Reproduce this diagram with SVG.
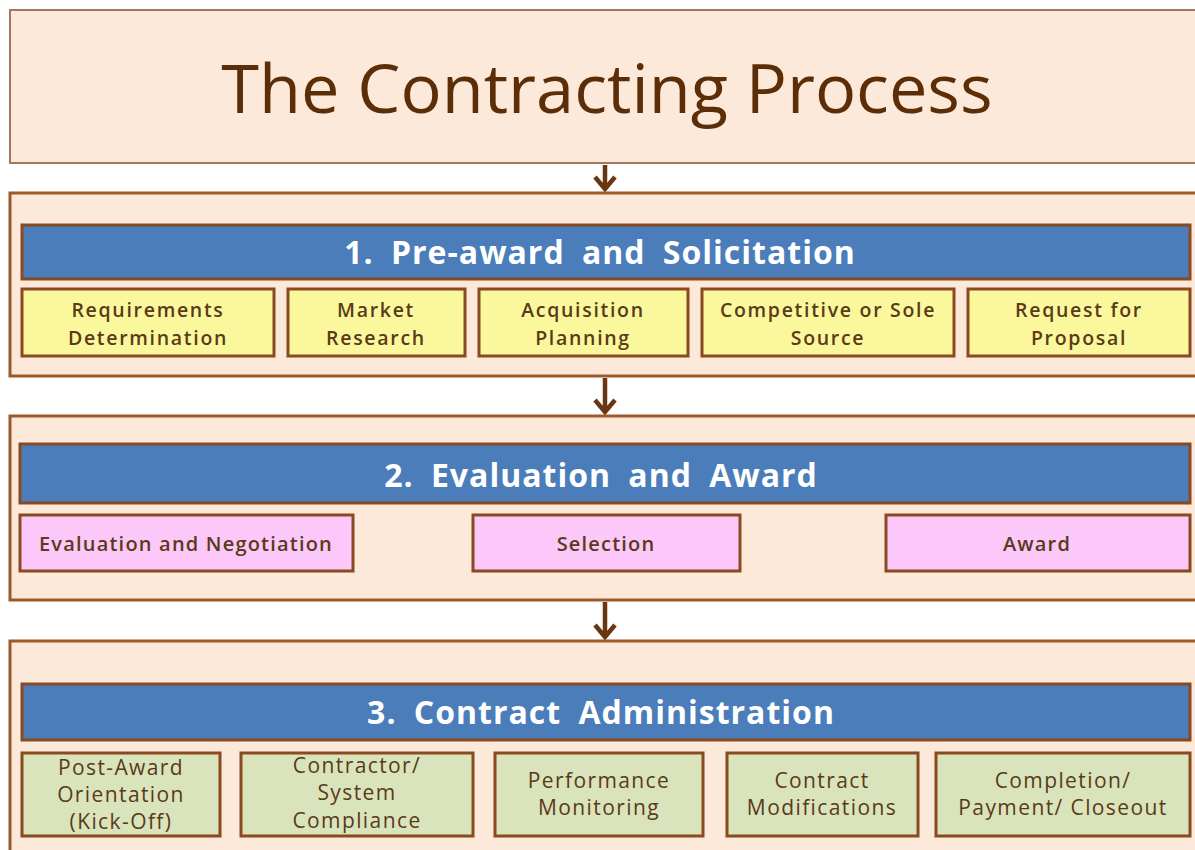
<svg xmlns="http://www.w3.org/2000/svg" width="1195" height="850" viewBox="0 0 1195 850">
<style>
.panel{fill:#fde9da;stroke:#9a5a2c;stroke-width:3}
.titlebox{fill:#fde9da;stroke:#a07a60;stroke-width:2}
.bar{fill:#4a7dba;stroke:#8a4a20;stroke-width:3}
.yel{fill:#fbf79c;stroke:#8a4a20;stroke-width:3}
.pink{fill:#fcc8fa;stroke:#8a4a20;stroke-width:3}
.green{fill:#d9e4bd;stroke:#8a4a20;stroke-width:3}
.title{font-family:"Open Sans",sans-serif;font-size:68.5px;fill:#5c2e08;text-anchor:middle}
.bt{font-family:"Open Sans",sans-serif;font-weight:700;font-size:32px;fill:#ffffff;text-anchor:middle;letter-spacing:1px;word-spacing:8px}
.st{font-family:"Open Sans",sans-serif;font-weight:600;font-size:19.5px;fill:#5a3a18;text-anchor:middle;letter-spacing:1.7px}
.pt{font-family:"Open Sans",sans-serif;font-weight:600;font-size:20px;fill:#5a3a18;text-anchor:middle;letter-spacing:1.2px}
.gt{font-family:"Open Sans",sans-serif;font-weight:400;font-size:21px;fill:#5a3a18;text-anchor:middle;letter-spacing:1.4px}
.arr{fill:none;stroke:#6a3612;stroke-width:4.5}
</style>
<rect width="1195" height="850" fill="#ffffff"/>
<g id="title">
<rect class="titlebox" x="10" y="10" width="1200" height="153"/>
<text class="title" x="607" y="113">The Contracting Process</text>
</g>
<g id="connectors">
<path class="arr" d="M605,165 V189 M595,177 L605,189 L615,177"/>
<path class="arr" d="M605,378 V412 M595,400 L605,412 L615,400"/>
<path class="arr" d="M605,602 V637 M595,625 L605,637 L615,625"/>
</g>
<g id="phase1">
<rect class="panel" x="10" y="193" width="1200" height="183"/>
<rect class="bar" x="22" y="225" width="1168" height="54"/>
<text class="bt" x="600" y="264">1. Pre-award and Solicitation</text>
</g>
<g id="req"><rect class="yel" x="22" y="289" width="252" height="67"/><text class="st" x="148" y="317">Requirements</text><text class="st" x="148" y="345">Determination</text></g>
<g id="market"><rect class="yel" x="288" y="289" width="177" height="67"/><text class="st" x="376" y="317">Market</text><text class="st" x="376" y="345">Research</text></g>
<g id="acq"><rect class="yel" x="479" y="289" width="209" height="67"/><text class="st" x="583" y="317">Acquisition</text><text class="st" x="583" y="345">Planning</text></g>
<g id="comp"><rect class="yel" x="702" y="289" width="252" height="67"/><text class="st" x="828" y="317">Competitive or Sole</text><text class="st" x="828" y="345">Source</text></g>
<g id="rfp"><rect class="yel" x="968" y="289" width="222" height="67"/><text class="st" x="1079" y="317">Request for</text><text class="st" x="1079" y="345">Proposal</text></g>
<g id="phase2">
<rect class="panel" x="10" y="416" width="1200" height="184"/>
<rect class="bar" x="20" y="444" width="1170" height="59"/>
<text class="bt" x="601" y="487">2. Evaluation and Award</text>
</g>
<g id="evalneg"><rect class="pink" x="20" y="515" width="333" height="56"/><text class="pt" x="186" y="551">Evaluation and Negotiation</text></g>
<g id="selection"><rect class="pink" x="473" y="515" width="267" height="56"/><text class="pt" x="606" y="551">Selection</text></g>
<g id="award"><rect class="pink" x="886" y="515" width="304" height="56"/><text class="pt" x="1037" y="551">Award</text></g>
<g id="phase3">
<rect class="panel" x="10" y="641" width="1200" height="220"/>
<rect class="bar" x="22" y="684" width="1168" height="56"/>
<text class="bt" x="601" y="724">3. Contract Administration</text>
</g>
<g id="postaward"><rect class="green" x="22" y="753" width="198" height="83"/><text class="gt" x="121" y="775">Post-Award</text><text class="gt" x="121" y="802">Orientation</text><text class="gt" x="121" y="829">(Kick-Off)</text></g>
<g id="compliance"><rect class="green" x="241" y="753" width="232" height="83"/><text class="gt" x="357" y="773">Contractor/</text><text class="gt" x="357" y="800">System</text><text class="gt" x="357" y="828">Compliance</text></g>
<g id="perf"><rect class="green" x="495" y="753" width="208" height="83"/><text class="gt" x="599" y="788">Performance</text><text class="gt" x="599" y="815">Monitoring</text></g>
<g id="mods"><rect class="green" x="727" y="753" width="191" height="83"/><text class="gt" x="822" y="788">Contract</text><text class="gt" x="822" y="815">Modifications</text></g>
<g id="closeout"><rect class="green" x="936" y="753" width="254" height="83"/><text class="gt" x="1063" y="788">Completion/</text><text class="gt" x="1063" y="815">Payment/ Closeout</text></g>
</svg>
